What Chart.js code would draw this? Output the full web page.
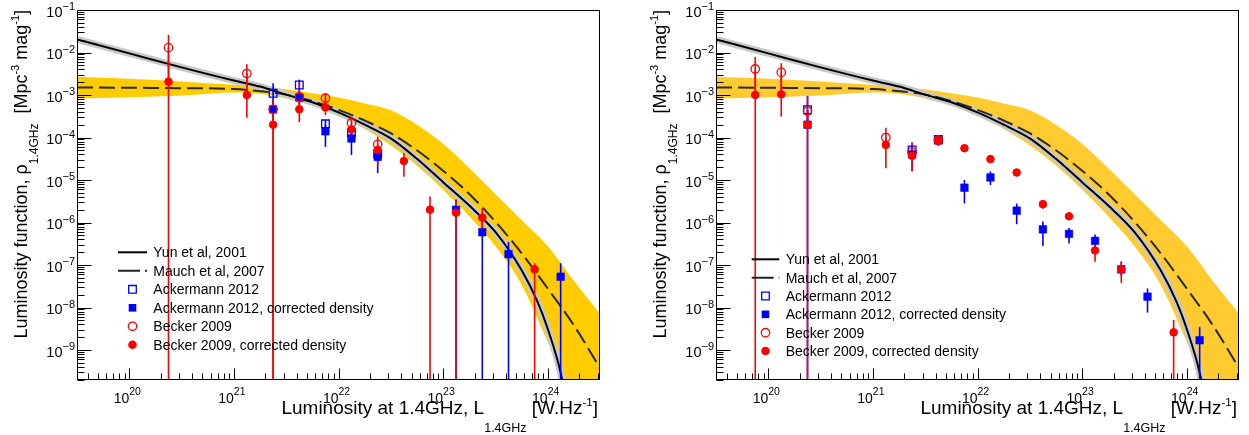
<!DOCTYPE html>
<html>
<head>
<meta charset="utf-8">
<script src="https://cdn.jsdelivr.net/npm/chart.js@4.4.1/dist/chart.umd.min.js"></script>
<style>
  body { margin: 0; background: #fff; }
  .row { display: flex; }
  canvas { display: block; }
</style>
</head>
<body>
<div class="row">
  <canvas id="left" width="624" height="435"></canvas>
  <canvas id="right" width="625" height="435"></canvas>
</div>
<script>
// ---- model curves (same in both panels) ----
const yunL   = [3.16e19, 1e20, 3.16e20, 1e21, 1.78e21, 3.16e21, 5.62e21, 1e22, 1.78e22, 3.16e22, 5.62e22, 1e23, 1.78e23, 3.16e23, 5.62e23, 7.94e23, 1e24, 1.26e24, 1.41e24, 1.78e24];
const yunRho = [2.04e-2, 9.55e-3, 4.47e-3, 2.19e-3, 1.58e-3, 1.02e-3, 6.76e-4, 3.89e-4, 2.0e-4, 9.55e-5, 3.16e-5, 8.9e-6, 2.5e-6, 6.0e-7, 7.6e-8, 1.41e-8, 3.16e-9, 5.0e-10, 1.58e-10, 1.58e-11];

const mauchL   = [3.16e19, 1e20, 3.16e20, 1e21, 1.78e21, 3.16e21, 5.62e21, 1e22, 1.78e22, 3.16e22, 5.62e22, 1e23, 1.78e23, 3.16e23, 5.62e23, 1e24, 1.78e24, 3.16e24];
const mauchRho = [1.51e-3, 1.48e-3, 1.45e-3, 1.38e-3, 1.23e-3, 1.02e-3, 7.2e-4, 4.47e-4, 2.51e-4, 1.26e-4, 5.0e-5, 1.66e-5, 4.7e-6, 1.05e-6, 1.9e-7, 2.8e-8, 3.8e-9, 3.8e-10];
const mauchHigh = [2.69e-3, 2.4e-3, 2.09e-3, 1.74e-3, 1.58e-3, 1.35e-3, 1.1e-3, 8.7e-4, 6.3e-4, 4.37e-4, 2.0e-4, 7.1e-5, 1.9e-5, 4.7e-6, 1.15e-6, 2.8e-7, 4.2e-8, 7.2e-9];
const mauchLow  = [8.3e-4, 8.9e-4, 9.8e-4, 1.15e-3, 1.07e-3, 8.3e-4, 5.75e-4, 3.55e-4, 1.58e-4, 6.6e-5, 2.2e-5, 6.0e-6, 1.41e-6, 2.8e-7, 3.5e-8, 1.58e-9, 6.3e-11, 2.5e-12];

// ---- measurements: [L, rho, upper end of error, lower end of error] ----
// left panel
const leftAckermann = [
  [2.37e21, 1.1e-3, 1.9e-3, 6e-4], [4.22e21, 1.72e-3, 2.3e-3, 1.2e-3], [7.5e21, 2.1e-4, 2.6e-4, 1.6e-4],
  [1.33e22, 1.3e-4, 1.6e-4, 1.0e-4], [2.37e22, 4.1e-5, 5.2e-5, 3.2e-5]
];
const leftAckermannCorr = [
  [2.37e21, 4.6e-4, 8e-4, 2.5e-4], [4.22e21, 8.7e-4, 1.2e-3, 6e-4], [7.5e21, 1.4e-4, 2.0e-4, 6.0e-5],
  [1.33e22, 9.5e-5, 1.3e-4, 3.9e-5], [2.37e22, 3.5e-5, 4.6e-5, 1.45e-5], [1.33e23, 2.0e-6, 3.5e-6, 1e-12],
  [2.37e23, 5.9e-7, 1.1e-6, 1e-12], [4.22e23, 1.8e-7, 3.5e-7, 1e-12], [1.33e24, 5.3e-8, 1.1e-7, 1e-12]
];
const leftBecker = [
  [2.37e20, 1.3e-2, 2.6e-2, 2.06e-3], [1.33e21, 3.2e-3, 5.3e-3, 1.0e-3], [2.37e21, 4.6e-4, 8e-4, 1e-12],
  [4.22e21, 9.0e-4, 2.0e-3, 4.6e-4], [7.5e21, 8.4e-4, 1.1e-3, 5.1e-4], [1.33e22, 2.2e-4, 3.1e-4, 1.55e-4],
  [2.37e22, 6.9e-5, 1.05e-4, 5.1e-5]
];
const leftBeckerCorr = [
  [2.37e20, 2.06e-3, 1.3e-2, 1e-12], [1.33e21, 1.0e-3, 3.2e-3, 2.9e-4], [2.37e21, 2.0e-4, 4.6e-4, 1e-12],
  [4.22e21, 4.6e-4, 9e-4, 2.3e-4], [7.5e21, 5.1e-4, 8.4e-4, 3.4e-4], [1.33e22, 1.55e-4, 2.2e-4, 8.7e-5],
  [2.37e22, 5.1e-5, 6.9e-5, 2.2e-5], [4.22e22, 2.8e-5, 4.3e-5, 1.2e-5], [7.5e22, 2.0e-6, 4.1e-6, 1e-12],
  [1.33e23, 1.7e-6, 3.2e-6, 1e-12], [2.37e23, 1.3e-6, 2.2e-6, 6e-7], [7.5e23, 7.9e-8, 1.1e-7, 1e-12]
];
// right panel
const rightAckermann = [
  [2.37e20, 4.5e-4, 9.5e-4, 2.0e-4], [2.37e21, 5.1e-5, 7.6e-5, 4.0e-5], [4.22e21, 9.0e-5, 1.1e-4, 8.5e-5]
];
const rightAckermannCorr = [
  [2.37e20, 2.0e-4, 4.5e-4, 1e-12], [2.37e21, 4.0e-5, 5.1e-5, 1.6e-5], [4.22e21, 8.5e-5, 1.1e-4, 6.5e-5],
  [7.5e21, 6.6e-6, 1.0e-5, 2.8e-6], [1.33e22, 1.15e-5, 1.6e-5, 7.6e-6], [2.37e22, 1.9e-6, 2.8e-6, 9.1e-7],
  [4.22e22, 6.9e-7, 1.05e-6, 2.8e-7], [7.5e22, 5.4e-7, 7.4e-7, 3.2e-7], [1.33e23, 3.7e-7, 5.2e-7, 2.6e-7],
  [2.37e23, 7.9e-8, 1.2e-7, 5.5e-8], [4.22e23, 1.8e-8, 2.8e-8, 7.6e-9], [1.33e24, 1.7e-9, 3.5e-9, 1e-12]
];
const rightBecker = [
  [7.5e19, 4.1e-3, 7.9e-3, 1.0e-3], [1.33e20, 3.4e-3, 5.6e-3, 1.04e-3], [2.37e20, 4.2e-4, 9.5e-4, 2.0e-4],
  [1.33e21, 1.0e-4, 1.7e-4, 6.7e-5], [2.37e21, 4.6e-5, 7.6e-5, 3.7e-5], [4.22e21, 8.7e-5, 1.1e-4, 6.5e-5]
];
const rightBeckerCorr = [
  [7.5e19, 1.0e-3, 4.1e-3, 1e-12], [1.33e20, 1.04e-3, 3.4e-3, 3.1e-4], [2.37e20, 2.0e-4, 4.2e-4, 1e-12],
  [1.33e21, 6.7e-5, 1.0e-4, 1.9e-5], [2.37e21, 3.7e-5, 4.6e-5, 1.6e-5], [4.22e21, 8.4e-5, 1.1e-4, 6.5e-5],
  [7.5e21, 5.6e-5, 6.2e-5, 5.0e-5], [1.33e22, 3.1e-5, 3.4e-5, 2.8e-5], [2.37e22, 1.5e-5, 1.7e-5, 1.35e-5],
  [4.22e22, 2.7e-6, 3.2e-6, 2.1e-6], [7.5e22, 1.4e-6, 1.6e-6, 1.15e-6], [1.33e23, 2.2e-7, 3.3e-7, 1.2e-7],
  [2.37e23, 7.9e-8, 1.2e-7, 3.8e-8], [7.5e23, 2.6e-9, 5.1e-9, 1e-12]
];

const legendLabels = ['Yun et al, 2001', 'Mauch et al, 2007', 'Ackermann 2012',
  'Ackermann 2012, corrected density', 'Becker 2009', 'Becker 2009, corrected density'];

const X_MIN = 3.162e19, X_MAX = 3.162e24;
const Y_MIN = 1.97e-10, Y_MAX = 0.1;

const FONT = '"Liberation Sans", Arial, Helvetica, sans-serif';
const RED = '#ff0000';
const BLUE = '#0000ff';

function curve(L, v) { return L.map((x, i) => ({ x: x, y: v[i] })); }
function points(rows) { return rows.map(r => ({ x: r[0], y: r[1] })); }

// text with sub/superscripts: parts = [text, size, dy]
function richWidth(ctx, parts) {
  let w = 0;
  parts.forEach(p => { ctx.font = p[1] + 'px ' + FONT; w += ctx.measureText(p[0]).width; });
  return w;
}
function drawRich(ctx, parts, x, y) {
  let cx = x;
  parts.forEach(p => {
    ctx.font = p[1] + 'px ' + FONT;
    ctx.fillText(p[0], cx, y + p[2]);
    cx += ctx.measureText(p[0]).width;
  });
}

function marker(ctx, kind, x, y) {
  ctx.save();
  ctx.lineWidth = 1.3;
  if (kind === 'sqOpen' || kind === 'sqFull') {
    const s = 7.6;
    ctx.beginPath(); ctx.rect(x - s / 2, y - s / 2, s, s);
    if (kind === 'sqFull') { ctx.fillStyle = BLUE; ctx.fill(); }
    else { ctx.strokeStyle = BLUE; ctx.stroke(); }
  } else {
    ctx.beginPath();
    if (kind === 'cFull') { ctx.arc(x, y, 4.3, 0, Math.PI * 2); ctx.fillStyle = RED; ctx.fill(); }
    else { ctx.arc(x, y, 4.2, 0, Math.PI * 2); ctx.strokeStyle = RED; ctx.stroke(); }
  }
  ctx.restore();
}

function makeErrorPlugin(series) {
  return {
    id: 'errorBars',
    beforeDatasetDraw(chart, args) {
      if (args.index !== 5) return;
      const ctx = chart.ctx, a = chart.chartArea, xs = chart.scales.x, ys = chart.scales.y;
      ctx.save();
      ctx.beginPath(); ctx.rect(a.left, a.top, a.right - a.left, a.bottom - a.top); ctx.clip();
      series.forEach(s => {
        ctx.strokeStyle = s.color; ctx.lineWidth = 1.6;
        s.rows.forEach(r => {
          const px = xs.getPixelForValue(r[0]);
          const y1 = Math.min(ys.getPixelForValue(r[2]), a.bottom + 5);
          const y2 = Math.min(ys.getPixelForValue(r[3]), a.bottom + 5);
          ctx.beginPath(); ctx.moveTo(px, y1); ctx.lineTo(px, y2); ctx.stroke();
        });
      });
      ctx.restore();
    }
  };
}

function makeAxisPlugin(leg) {
  return {
    id: 'rootAxes',
    afterDraw(chart) {
      const ctx = chart.ctx, a = chart.chartArea, xs = chart.scales.x, ys = chart.scales.y;
      const L = Math.round(a.left) + 0.5, R = Math.round(a.right) - 0.5;
      const T = Math.round(a.top) + 0.5, B = Math.round(a.bottom) - 0.5;
      ctx.save();
      ctx.strokeStyle = '#000'; ctx.lineWidth = 1;
      ctx.strokeRect(L, T, R - L, B - T);

      // ticks
      ctx.beginPath();
      for (let e = 19; e <= 24; e++) {
        for (let k = 1; k <= 9; k++) {
          const v = k * Math.pow(10, e);
          if (v < X_MIN || v > X_MAX) continue;
          const px = Math.round(xs.getPixelForValue(v)) + 0.5;
          ctx.moveTo(px, B); ctx.lineTo(px, B - (k === 1 ? 11 : 6));
        }
      }
      for (let e = -10; e <= -1; e++) {
        for (let k = 1; k <= 9; k++) {
          const v = k * Math.pow(10, e);
          if (v < Y_MIN || v > Y_MAX * 1.0001) continue;
          const py = Math.round(ys.getPixelForValue(v)) + 0.5;
          ctx.moveTo(L, py); ctx.lineTo(L + (k === 1 ? 14 : 7), py);
        }
      }
      ctx.stroke();

      // tick labels
      ctx.fillStyle = '#000';
      ctx.textBaseline = 'alphabetic';
      for (let e = 20; e <= 24; e++) {
        const parts = [['10', 14, 0], [String(e), 10.5, -7.7]];
        const w = richWidth(ctx, parts);
        const px = xs.getPixelForValue(Math.pow(10, e));
        drawRich(ctx, parts, px - 2 - w / 2, a.bottom + 22.7);
      }
      for (let e = -9; e <= -1; e++) {
        const parts = [['10', 14.5, 0], ['\u2212' + (-e), 11, -6.2]];
        const w = richWidth(ctx, parts);
        const py = ys.getPixelForValue(Math.pow(10, e));
        drawRich(ctx, parts, a.left - 2 - w, py + 6.6);
      }

      // axis titles
      const xt = [['Luminosity at 1.4GHz, L', 19, 0], ['1.4GHz', 12.5, 18], [' [W.Hz', 19, 0], ['-1', 11.5, -8], [']', 19, 0]];
      drawRich(ctx, xt, a.right - 2 - richWidth(ctx, xt), 414);
      const yt = [['Luminosity function, \u03c1', 18, 0], ['1.4GHz', 12, 11], ['  [Mpc', 18, 0], ['-3', 11, -8], [' mag', 18, 0], ['-1', 11, -8], [']', 18, 0]];
      ctx.save();
      ctx.translate(a.left - 50, a.top);
      ctx.rotate(-Math.PI / 2);
      drawRich(ctx, yt, -richWidth(ctx, yt), 0);
      ctx.restore();

      // legend
      ctx.font = '14px ' + FONT;
      ctx.textBaseline = 'middle';
      const kinds = ['line', 'dash', 'sqOpen', 'sqFull', 'cOpen', 'cFull'];
      const mx = (leg.x0 + leg.x1) / 2;
      kinds.forEach((k, i) => {
        const y = leg.y0 + i * leg.dy;
        if (k === 'line' || k === 'dash') {
          ctx.save();
          ctx.strokeStyle = k === 'line' ? '#000' : '#222';
          ctx.lineWidth = 2;
          if (k === 'dash') ctx.setLineDash([22, 5]);
          ctx.beginPath(); ctx.moveTo(leg.x0, y); ctx.lineTo(leg.x1, y); ctx.stroke();
          ctx.restore();
        } else {
          marker(ctx, k, mx, y);
        }
        ctx.fillStyle = '#000';
        ctx.fillText(legendLabels[i], leg.tx, y + 1);
      });
      ctx.restore();
    }
  };
}

function makePanel(id, cfg) {
  const lineBase = { pointRadius: 0, cubicInterpolationMode: 'monotone', clip: 0 };
  const markerBase = { showLine: false, clip: 0 };
  new Chart(document.getElementById(id), {
    type: 'line',
    data: {
      datasets: [
        Object.assign({ data: curve(mauchL, mauchHigh), fill: '+1', backgroundColor: cfg.band,
          borderColor: 'rgba(0,0,0,0)', borderWidth: 0, order: 9 }, lineBase),
        Object.assign({ data: curve(mauchL, mauchLow), fill: false,
          borderColor: 'rgba(0,0,0,0)', borderWidth: 0, order: 8 }, lineBase),
        Object.assign({ data: curve(yunL, yunRho), fill: false, borderColor: '#c8c8c8', borderWidth: 7, order: 7 }, lineBase),
        Object.assign({ data: curve(mauchL, mauchRho), fill: false, borderColor: '#2a2a2a', borderWidth: 2,
          borderDash: [16, 6], order: 6 }, lineBase),
        Object.assign({ data: curve(yunL, yunRho), fill: false, borderColor: '#000', borderWidth: 2, order: 5 }, lineBase),
        Object.assign({ data: points(cfg.ack), pointStyle: 'rect', pointRadius: 5.4, pointBorderWidth: 1.3,
          pointBorderColor: BLUE, pointBackgroundColor: 'rgba(0,0,0,0)', order: 4 }, markerBase),
        Object.assign({ data: points(cfg.ackCorr), pointStyle: 'rect', pointRadius: 5.4, pointBorderWidth: 0.5,
          pointBorderColor: BLUE, pointBackgroundColor: BLUE, order: 3 }, markerBase),
        Object.assign({ data: points(cfg.becker), pointStyle: 'circle', pointRadius: 4.2, pointBorderWidth: 1.3,
          pointBorderColor: RED, pointBackgroundColor: 'rgba(0,0,0,0)', order: 2 }, markerBase),
        Object.assign({ data: points(cfg.beckerCorr), pointStyle: 'circle', pointRadius: 3.8, pointBorderWidth: 1,
          pointBorderColor: RED, pointBackgroundColor: RED, order: 1 }, markerBase)
      ]
    },
    options: {
      responsive: false,
      animation: false,
      events: [],
      layout: { padding: cfg.pad },
      plugins: { legend: { display: false }, tooltip: { enabled: false } },
      scales: {
        x: { type: 'logarithmic', min: X_MIN, max: X_MAX, display: false },
        y: { type: 'logarithmic', min: Y_MIN, max: Y_MAX, display: false }
      }
    },
    plugins: [
      makeErrorPlugin([
        { rows: cfg.ack, color: BLUE }, { rows: cfg.ackCorr, color: BLUE },
        { rows: cfg.becker, color: RED }, { rows: cfg.beckerCorr, color: RED }
      ]),
      makeAxisPlugin(cfg.legend)
    ]
  });
}

makePanel('left', {
  band: '#ffcc00',
  pad: { left: 77, right: 24, top: 10, bottom: 55 },
  ack: leftAckermann, ackCorr: leftAckermannCorr, becker: leftBecker, beckerCorr: leftBeckerCorr,
  legend: { x0: 118, x1: 147, tx: 153.3, y0: 252.3, dy: 18.5 }
});
makePanel('right', {
  band: '#ffcb30',
  pad: { left: 92, right: 10, top: 10, bottom: 55 },
  ack: rightAckermann, ackCorr: rightAckermannCorr, becker: rightBecker, beckerCorr: rightBeckerCorr,
  legend: { x0: 127.7, x1: 155.3, tx: 161.7, y0: 259.3, dy: 18.35 }
});
</script>
</body>
</html>
